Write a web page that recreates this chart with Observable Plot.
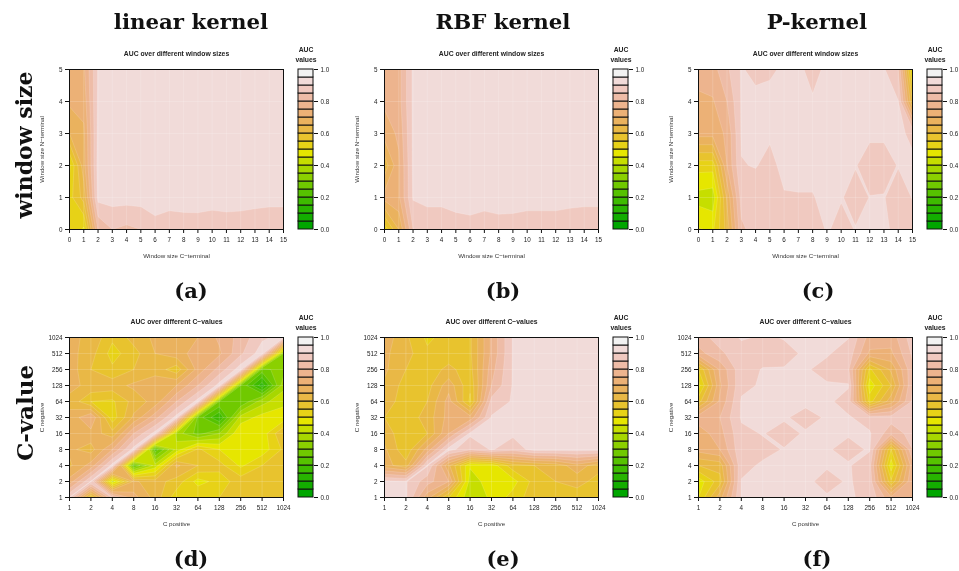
<!DOCTYPE html>
<html>
<head>
<meta charset="utf-8">
<script src="https://cdn.jsdelivr.net/npm/d3@7"></script>
<script src="https://cdn.jsdelivr.net/npm/@observablehq/plot@0.6"></script>
<style>
html,body{margin:0;padding:0;background:#fff;}
#page{position:relative;width:959px;height:571px;overflow:hidden;background:#fff;filter:blur(0.35px);}
.head{position:absolute;font-family:"DejaVu Serif",serif;font-weight:bold;color:#111;white-space:nowrap;transform:translate(-50%,-50%);}
</style>
</head>
<body>
<div id="page"></div>
<script>
// Band limits and R terrain palette
const levels = [0,.05,.1,.15,.2,.25,.3,.35,.4,.45,.5,.55,.6,.65,.7,.75,.8,.85,.9,.95];
const palette = ["#00A600","#13AD00","#28B400","#3EBB00","#56C200","#70C900","#8BD000","#A7D700","#C6DE00","#E6E600","#E7D217","#E8C32E","#E9B846","#EAB25E","#ECB176","#EDB48E","#EEBCA7","#F0C9C0","#F1DBD9","#F2F2F2"];
const legendTicks = [0,.2,.4,.6,.8,1];
const windowTicks = [0,1,2,3,4,5,6,7,8,9,10,11,12,13,14,15];
const windowNTicks = [0,1,2,3,4,5];
const cIndex = [0,1,2,3,4,5,6,7,8,9,10];
const cLabels = ["1","2","4","8","16","32","64","128","256","512","1024"];

// Window-size grids: rows N-terminal 0..5, columns C-terminal 0..15
const linearWindow = [
 [.55,.49,.805,.85,.838,.85,.885,.872,.877,.878,.87,.876,.873,.863,.853,.853],
 [.53,.62,.917,.92,.92,.92,.92,.92,.92,.92,.92,.92,.92,.92,.92,.92],
 [.49,.68,.92,.92,.92,.92,.92,.92,.92,.92,.92,.92,.92,.92,.92,.92],
 [.65,.69,.915,.92,.92,.92,.92,.92,.92,.92,.92,.92,.92,.92,.92,.92],
 [.71,.72,.91,.92,.92,.92,.92,.92,.92,.92,.92,.92,.92,.92,.92,.92],
 [.73,.74,.905,.92,.92,.92,.92,.92,.92,.92,.92,.92,.92,.92,.92,.92]
];
const rbfWindow = [
 [.52,.65,.849,.853,.853,.877,.884,.873,.882,.88,.872,.872,.872,.861,.851,.851],
 [.72,.74,.905,.92,.92,.92,.92,.92,.92,.92,.92,.92,.92,.92,.92,.92],
 [.62,.74,.91,.92,.92,.92,.92,.92,.92,.92,.92,.92,.92,.92,.92,.92],
 [.72,.76,.91,.92,.92,.92,.92,.92,.92,.92,.92,.92,.92,.92,.92,.92],
 [.76,.78,.91,.92,.92,.92,.92,.92,.92,.92,.92,.92,.92,.92,.92,.92],
 [.76,.78,.91,.92,.92,.92,.92,.92,.92,.92,.92,.92,.92,.92,.92,.92]
];
const pWindow = [
 [.505,.49,.62,.84,.87,.88,.88,.88,.87,.905,.885,.902,.92,.91,.885,.885],
 [.43,.42,.66,.87,.88,.88,.897,.898,.898,.91,.903,.885,.901,.902,.88,.902],
 [.52,.52,.75,.898,.902,.89,.91,.91,.91,.91,.91,.902,.885,.885,.902,.905],
 [.72,.72,.76,.905,.91,.905,.915,.915,.915,.915,.915,.91,.906,.906,.905,.895],
 [.74,.745,.8,.905,.915,.92,.92,.905,.905,.92,.92,.92,.92,.91,.902,.6],
 [.77,.78,.84,.905,.885,.89,.91,.91,.885,.91,.92,.92,.92,.905,.85,.49]
];

// C-value grids: rows C negative 1..1024, columns C positive 1..1024
const linearC = [
 [.905,.55,.86,.72,.63,.52,.55,.55,.58,.58,.58],
 [.72,.905,.42,.66,.62,.58,.48,.52,.58,.58,.58],
 [.64,.72,.92,.25,.42,.66,.6,.57,.49,.55,.56],
 [.66,.63,.75,.92,.22,.42,.56,.5,.47,.47,.56],
 [.7,.68,.62,.8,.92,.38,.28,.35,.5,.47,.6],
 [.66,.75,.52,.66,.78,.92,.28,.15,.42,.47,.47],
 [.64,.55,.54,.62,.67,.8,.92,.3,.25,.38,.44],
 [.66,.64,.63,.66,.68,.7,.8,.92,.3,.12,.38],
 [.68,.6,.56,.6,.63,.57,.72,.82,.93,.28,.33],
 [.67,.62,.53,.58,.65,.68,.72,.74,.84,.93,.35],
 [.66,.64,.56,.62,.66,.7,.7,.76,.82,.89,.92]
];
const rbfC = [
 [.91,.91,.72,.55,.41,.46,.52,.58,.56,.57,.57],
 [.91,.905,.82,.75,.43,.47,.48,.57,.6,.62,.58],
 [.67,.62,.905,.66,.455,.47,.58,.6,.62,.68,.62],
 [.66,.56,.72,.92,.86,.905,.87,.92,.92,.92,.92],
 [.63,.56,.6,.75,.91,.915,.91,.92,.92,.92,.92],
 [.6,.57,.62,.72,.72,.905,.92,.92,.92,.92,.92],
 [.62,.58,.6,.72,.54,.87,.905,.92,.92,.92,.92],
 [.64,.58,.58,.68,.56,.8,.905,.92,.92,.92,.92],
 [.66,.6,.58,.61,.58,.78,.905,.92,.92,.92,.92],
 [.66,.62,.56,.58,.59,.76,.905,.92,.92,.92,.92],
 [.68,.61,.54,.57,.59,.76,.905,.92,.92,.92,.92]
];
const pC = [
 [.5,.68,.902,.905,.91,.91,.905,.905,.89,.76,.8],
 [.47,.58,.902,.905,.91,.91,.885,.905,.88,.56,.8],
 [.6,.62,.89,.905,.91,.91,.905,.905,.87,.47,.78],
 [.72,.75,.89,.89,.902,.91,.905,.885,.905,.55,.85],
 [.72,.78,.89,.902,.885,.905,.91,.905,.905,.82,.87],
 [.78,.8,.905,.91,.905,.885,.905,.905,.88,.87,.88],
 [.58,.76,.905,.91,.92,.91,.91,.88,.53,.68,.86],
 [.48,.74,.89,.905,.92,.92,.905,.905,.47,.6,.85],
 [.55,.76,.885,.902,.902,.905,.885,.86,.54,.66,.84],
 [.78,.84,.88,.885,.89,.905,.905,.88,.74,.74,.86],
 [.83,.87,.905,.895,.902,.91,.91,.902,.78,.77,.88]
];

// The field is contoured negated, painting from the top band down, so saddles keep high values joined.
const negThresholds = [...levels.slice(1),1].reverse().map(t=>-t);
const panelColor = {type:"threshold", domain: negThresholds.slice(1), range: [...palette].reverse()};
const legendColor = {type:"threshold", domain: levels.slice(1), range: palette};
const page = document.getElementById("page");
const FONT = '"Liberation Sans",Arial,sans-serif';
const INK = "#222";

function panel(o){
  const ml=38, mr=12, mt=22, mb=34;
  const rows=o.grid.length, cols=o.grid[0].length;
  const fmtX=o.xLabels?(d=>o.xLabels[d]):(d=>String(d));
  const fmtY=o.xLabels?(d=>o.xLabels[d]):(d=>String(d));
  const svg=Plot.plot({
    width:o.w+ml+mr, height:o.h+mt+mb,
    marginLeft:ml, marginRight:mr, marginTop:mt, marginBottom:mb,
    style:{position:"absolute",left:(o.x-ml)+"px",top:(o.y-mt)+"px",fontFamily:FONT,background:"transparent",maxWidth:"none"},
    x:{domain:[0,cols-1]}, y:{domain:[0,rows-1]},
    color:panelColor,
    marks:[
      Plot.contour(o.grid.flat(),{value:d=>-d,width:cols,height:rows,x1:-.5,x2:cols-.5,y1:-.5,y2:rows-.5,
        thresholds:negThresholds,fill:"value",stroke:"white",strokeOpacity:.3,strokeWidth:.5,clip:true}),
      Plot.gridX(o.xTicks,{stroke:"white",strokeOpacity:.28,strokeWidth:.6}),
      Plot.gridY(o.yTicks,{stroke:"white",strokeOpacity:.28,strokeWidth:.6}),
      Plot.frame({stroke:"#111",strokeWidth:1}),
      Plot.axisX({ticks:o.xTicks,tickSize:4,tickPadding:4,tickFormat:fmtX,label:null,fontSize:6.3,color:INK,stroke:"#111"}),
      Plot.axisY({ticks:o.yTicks,tickSize:4,tickPadding:3,tickFormat:fmtY,label:null,fontSize:6.3,color:INK,stroke:"#111"}),
      Plot.text([o.title],{frameAnchor:"top",dy:-15.5,lineAnchor:"middle",fontSize:6.8,fontWeight:"bold",fill:"#222"}),
      Plot.text([o.xLabel],{frameAnchor:"bottom",dy:26.5,lineAnchor:"middle",fontSize:6.2,fill:"#333"}),
      Plot.text([o.yLabel],{frameAnchor:"left",dx:-27,rotate:-90,textAnchor:"middle",lineAnchor:"middle",fontSize:6.2,fill:"#333"})
    ]
  });
  page.appendChild(svg);
}

function legend(o){
  const ml=4, mr=17, mt=26, mb=4;
  const svg=Plot.plot({
    width:o.w+ml+mr, height:o.h+mt+mb,
    marginLeft:ml, marginRight:mr, marginTop:mt, marginBottom:mb,
    style:{position:"absolute",left:(o.x-ml)+"px",top:(o.y-mt)+"px",fontFamily:FONT,background:"transparent",maxWidth:"none"},
    x:{domain:[0,1],axis:null}, y:{domain:[0,1]},
    color:legendColor,
    marks:[
      Plot.rect(levels,{x1:()=>0,x2:()=>1,y1:d=>d,y2:d=>levels[levels.indexOf(d)+1]??1,fill:d=>d,stroke:"#111",strokeWidth:1}),
      Plot.axisY({anchor:"right",ticks:legendTicks,tickSize:4,tickPadding:3,tickFormat:d3.format(".1f"),label:null,fontSize:6.3,color:INK,stroke:"#111"}),
      Plot.text(["AUC\nvalues"],{frameAnchor:"top",dy:-24,lineAnchor:"top",lineHeight:1.4,fontSize:6.8,fontWeight:"bold",fill:"#222"})
    ]
  });
  page.appendChild(svg);
}

function head(text,x,y,size,rotate){
  const d=document.createElement("div");
  d.className="head";
  d.textContent=text;
  d.style.left=x+"px"; d.style.top=y+"px"; d.style.fontSize=size+"px";
  if(rotate) d.style.transform="translate(-50%,-50%) rotate(-90deg)";
  page.appendChild(d);
}

const W=214, H=160;
const cols=[68.5,383.5,697.5], legs=[297.5,612.5,926.5];
const tops=[68.5,336.5];
const winTitle="AUC over different window sizes", cTitle="AUC over different C\u2212values";
[linearWindow,rbfWindow,pWindow].forEach((g,i)=>{
  panel({grid:g,x:cols[i],y:tops[0],w:W,h:H,xTicks:windowTicks,yTicks:windowNTicks,title:winTitle,
    xLabel:"Window size C\u2212terminal",yLabel:"Window size N\u2212terminal"});
  legend({x:legs[i],y:tops[0],w:15,h:H});
});
[linearC,rbfC,pC].forEach((g,i)=>{
  panel({grid:g,x:cols[i],y:tops[1],w:W,h:H,xTicks:cIndex,yTicks:cIndex,xLabels:cLabels,title:cTitle,
    xLabel:"C positive",yLabel:"C negative"});
  legend({x:legs[i],y:tops[1],w:15,h:H});
});

["linear kernel","RBF kernel","P-kernel"].forEach((t,i)=>head(t,[191,503,817][i],21,21.3));
["(a)","(b)","(c)"].forEach((t,i)=>head(t,[191,503,818][i],290,21));
["(d)","(e)","(f)"].forEach((t,i)=>head(t,[191,503,817][i],558,21));
head("window size",24,145,22,true);
head("C-value",24,413,23,true);
</script>
</body>
</html>
